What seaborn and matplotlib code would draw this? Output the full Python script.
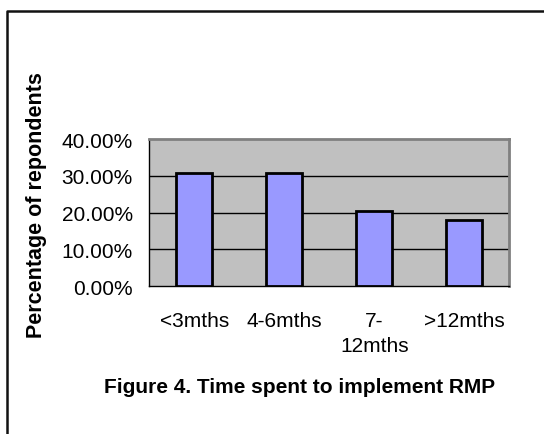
import numpy as np
import pandas as pd
import matplotlib
matplotlib.use('Agg')
import matplotlib.pyplot as plt
import matplotlib.ticker as mticker
from matplotlib.lines import Line2D
import seaborn as sns

# data (percent of respondents)
categories = ['<3mths', '4-6mths', '7-\n12mths', '>12mths']
percents = [30.77, 30.77, 20.51, 17.95]
yticks = [0, 10, 20, 30, 40]

data = pd.DataFrame({'time': categories, 'pct': percents})

sns.set_style('white')
plt.rcParams['font.family'] = ['Liberation Sans', 'DejaVu Sans']
plt.rcParams['text.color'] = 'black'
plt.rcParams['xtick.color'] = 'black'
plt.rcParams['ytick.color'] = 'black'

fig = plt.figure(figsize=(5.44, 4.35), dpi=100)
ax = fig.add_axes([0.2745, 0.340, 0.662, 0.338])
ax.set_facecolor('#C0C0C0')

sns.barplot(x='time', y='pct', data=data, ax=ax, color='#9999FF',
            width=0.4, edgecolor='black', linewidth=2, saturation=1, zorder=3)

ax.set_ylim(0, 40)
ax.set_xlim(-0.5, 3.5)
ax.set_yticks(yticks)
ax.yaxis.set_major_formatter(mticker.FuncFormatter(lambda v, p: '{:.2f}%'.format(v)))
for v in yticks[1:-1]:
    ax.axhline(v, color='black', lw=1, zorder=1)

# Excel style: ticks between categories, labels at centres
ax.set_xticks(np.arange(-0.5, 4, 1))
ax.set_xticklabels([])
ax.set_xticks(range(len(categories)), minor=True)
ax.set_xticklabels(categories, minor=True, fontsize=15, linespacing=1.4)
ax.tick_params(axis='x', which='minor', length=0, pad=18)
ax.tick_params(axis='x', which='major', length=5, width=1, color='black', direction='out')
ax.tick_params(axis='y', length=5, width=1, color='black', direction='out', pad=7, labelsize=15)
ax.set_xlabel('')
ax.set_ylabel('')

for s in ['top', 'right']:
    ax.spines[s].set_color('#808080')
    ax.spines[s].set_linewidth(2)
for s in ['left', 'bottom']:
    ax.spines[s].set_color('black')
    ax.spines[s].set_linewidth(1)

fig.text(0.068, 0.529, 'Percentage of repondents', rotation=90, fontsize=15.5,
         fontweight='bold', ha='center', va='center')
fig.text(0.551, 0.11, 'Figure 4. Time spent to implement RMP', fontsize=15,
         fontweight='bold', ha='center', va='center')

# outer frame (top and left edges visible)
fig.add_artist(Line2D([7/544, 7/544, 1.0], [0.0, 1 - 12/435, 1 - 12/435],
                      transform=fig.transFigure, color='#111111', lw=1.8))

fig.savefig('out.png', dpi=100)
